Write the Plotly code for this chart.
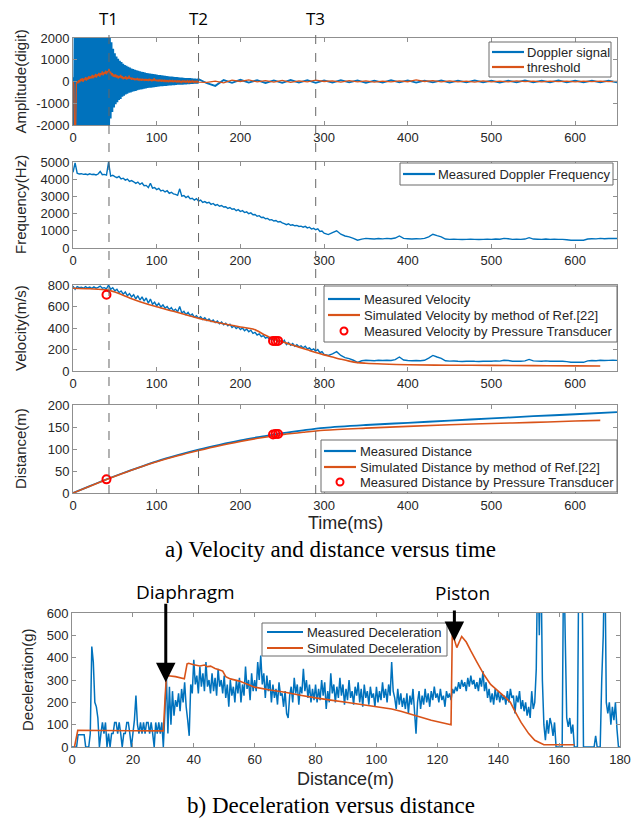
import numpy as np
import plotly.graph_objects as go

BLUE = "#0072BD"
ORANGE = "#D95319"
RED = "#FF0000"
W, H = 633, 819

# ---------------- Panel 1 : Doppler signal / threshold (time, ms) ----------------
doppler_early = [200, -2600, 2600, -2600, 2600, -2600, 2600, -2600, 2600, -2600,
                 2600, -2600, 2600, -2600, 2600, -2600, 2600, -2600, 2600, -2600,
                 2600, -2600, 2600, -2600, 2600, -2600, 2600, -2600, 2600, -2600,
                 2600, -2600, 2600, -2600, 2600, -2600, 2600, -2600, 2600, -2600,
                 2600, -2600, 2600, -2600,
                 2300, -1700, 1800, -1400, 1500, -1200, 1300, -1050, 1150, -950,
                 1050, -850, 950, -800, 900, -700, 820, -650, 760, -600,
                 720, -560, 680, -520, 640, -500, 600, -470, 570, -450,
                 540, -430, 520, -400, 490, -380, 470, -360, 450, -350,
                 430, -330, 410, -320, 390, -300, 380, -290, 360, -280,
                 350, -270, 340, -260, 330, -250, 320, -240, 300, -230,
                 290, -220, 280, -210, 270, -200, 260, -200, 250, -190,
                 240, -180, 230, -180, 220, -170, 210, -170, 200, -160,
                 200, -150, 190, -150, 180, -140, 180, -140, 170, -130,
                 160, -130, 160, -120, 150, -120, 150, -110, 140, -110,
                 130, -100, 130, -100, 120, -100, 110]
doppler_late = [-80, -200, 70, -60, 80, -50, 60, -70, 50, -60, 70, -50, 60, -60, 50,
                -50, 60, -40, 50, -60, 40, -50, 60, -40, 50, -50, 40, -40, 50, -50,
                40, -40, 50, -40, 40, -50, 40, -40, 50, -40, 40, -40, 50, -40, 40,
                -40, 40, -40, 40, -40]
threshold_early = [0, -150, -2600, -2600, -100, 0, -80, 60, -40, 120,
                   20, 150, -20, 130, 60, 200, 40, 180, 90, 250,
                   120, 230, 150, 300, 140, 280, 200, 350, 180, 330,
                   260, 400, 230, 380, 300, 460, 280, 420, 350, 500,
                   330, 470, 420, 580, 380, 450, 280, 380, 220, 320,
                   200, 330, 180, 280, 140, 250, 180, 300, 150, 240,
                   100, 200, 130, 240, 90, 190, 120, 270, 120, 180,
                   80, 170, 90, 150, 60, 140, 70, 160, 50, 130,
                   60, 120, 40, 130, 50, 110, 30, 120, 40, 100,
                   20, 130, 40, 100, 10, 90, 30, 150, 20, 90,
                   10, 80, 0, 90, 20, 70, -10, 80, 10, 60,
                   -20, 70, 0, 60, -30, 50, 0, 60, -20, 40,
                   -30, 50, -10, 40, -40, 30, -20, 50, -30, 20,
                   -40, 30, -20, 40, -50, 20, -30, 30, -40, 20,
                   -50, 20, -30, 30, -40, 10, -30, 20, -40, 10, -30]
threshold_late = [-40, 20, -60, 60, 0, 70, -20, 40, -30, 50, -40, 30, -20, 60, 0,
                  30, -30, 40, -20, 30, -30, 20, -20, 30, -10, 70, 0, 40, -20, 30,
                  -20, 20, -30, 30, -20, 20, -20, 30, -10, 20, -20, 20, -10, 20, -20,
                  20, -10, 20, -10, 10]

# ---------------- Panel 2 : measured Doppler frequency (Hz) ----------------
freq_early = [4400, 4950, 4350, 4300, 4320, 4280, 4300, 4260, 4310, 4270,
              4290, 4250, 4300, 4450, 4260, 4280, 4240, 4990,
              4180, 4230, 4150, 4090, 4160, 4020, 4060, 3950, 4010, 3870,
              3920, 3850, 3760, 3830, 3700, 3780, 3620, 3640, 3510, 3760,
              3480, 3520, 3400, 3470, 3320, 3360, 3260, 3330, 3180, 3240,
              3150, 3120, 3060, 3440, 3010, 3050, 2930, 3010, 2860, 2890,
              2780, 2870, 2730, 2790, 2650, 2700, 2620, 2660, 2540, 2590,
              2480, 2530, 2430, 2470, 2380, 2400, 2300, 2350, 2250, 2280,
              2170, 2230, 2120, 2170, 2060, 2100, 1990, 2040, 1930, 1950,
              1850, 1880, 1770, 1790, 1700, 1720, 1630, 1650, 1570, 1600,
              1510, 1540, 1460, 1420, 1360, 1410, 1320, 1350, 1290, 1310,
              1250, 1270, 1210, 1260, 1170, 1210, 1100, 1140, 1060, 1110,
              960, 990, 860]
freq_late = [780, 900, 1000, 800, 700, 650, 560, 450, 520, 560,
             540, 520, 550, 530, 560, 540, 580, 700, 560, 540,
             520, 540, 530, 560, 650, 800, 720, 650, 520, 500,
             510, 500, 490, 500, 510, 500, 490, 500, 510, 500,
             520, 510, 560, 540, 500, 510, 500, 520, 600, 520,
             510, 500, 520, 500, 510, 500, 500, 480, 450, 450,
             460, 450, 520, 540, 530, 560, 540, 550, 560, 550]

# ---------------- Panel 3 : velocity (m/s) ----------------
vel_early = [790, 760, 785, 775, 780, 770, 785, 772, 780, 768,
             782, 770, 778, 790, 770, 775, 765, 800, 760, 775,
             745, 760, 730, 745, 715, 735, 700, 720, 690, 710,
             670, 700, 660, 690, 650, 680, 630, 670, 620, 640,
             605, 630, 595, 615, 585, 600, 570, 590, 560, 575,
             550, 600, 540, 555, 525, 545, 515, 530, 500, 515,
             490, 505, 480, 495, 470, 485, 460, 475, 450, 465,
             440, 455, 430, 445, 420, 435, 405, 420, 395, 410,
             385, 400, 375, 390, 365, 380, 350, 360, 335, 345,
             320, 330, 305, 315, 295, 300, 285, 295, 270, 280,
             260, 285, 245, 265, 240, 255, 230, 245, 225, 235,
             215, 230, 205, 215, 195, 205, 185, 200, 170, 180, 155]
vel_late = [145, 160, 180, 145, 125, 115, 100, 80, 95, 100,
            98, 95, 100, 97, 100, 98, 105, 130, 102, 98,
            95, 98, 96, 100, 120, 145, 130, 118, 95, 92,
            93, 90, 89, 91, 92, 90, 89, 91, 92, 90,
            94, 92, 100, 98, 91, 92, 90, 94, 108, 94,
            92, 90, 94, 90, 92, 90, 90, 87, 81, 81,
            83, 81, 94, 98, 96, 100, 98, 99, 100, 99]
sim_vel_t = [0, 20, 40, 50, 60, 70, 80, 100, 120, 140, 160, 180, 200, 215, 220, 230, 240,
             250, 260, 270, 280, 290, 300, 310, 320, 330, 340, 350, 370, 400, 450, 500,
             550, 600, 630]
sim_vel = [770, 765, 755, 735, 705, 672, 645, 597, 555, 512, 472, 440, 410, 390, 375, 332,
           298, 272, 247, 222, 197, 172, 150, 130, 110, 92, 78, 72, 65, 58, 54, 52, 50, 48, 47]
pt_vel_t = [40, 239, 242, 245]
pt_vel = [710, 280, 278, 280]

# ---------------- Panel 4 : distance (m) ----------------
dist_t = [0, 20, 40, 60, 80, 100, 125, 150, 175, 200, 225, 250, 275, 300, 350, 400, 450,
          500, 550, 600, 650]
dist_meas = [0, 15.6, 31, 45.5, 59, 72, 86, 98.5, 109.5, 119.5, 128, 136, 142.5, 148,
             154.5, 159.5, 164.5, 169.5, 174.5, 179, 184]
sim_dist_t = [0, 20, 40, 60, 80, 100, 125, 150, 175, 200, 225, 250, 275, 300, 350, 400,
              450, 500, 550, 600, 630]
sim_dist = [0, 15.4, 30.7, 45, 58.5, 71, 84.5, 96.5, 107.5, 117, 125.5, 132.5, 138,
            142.5, 147.5, 151.5, 155, 158, 160.5, 163.5, 165]
pt_dist_t = [40, 239, 242, 245]
pt_dist = [31, 133, 134, 134]

# ---------------- Panel 5 : deceleration vs distance ----------------
decel_meas = [
    0, 0, 0, 0, 55, 55, 55, 55, 55, 0, 0, 0, 60, 450, 380, 200, 180, 130, 0, 60,
    110, 60, 110, 0, 60, 0, 60, 60, 110, 110, 60, 110, 60, 0, 60, 60, 110, 110, 60, 0,
    60, 120, 230, 100, 60, 110, 60, 110, 60, 110, 110, 60, 110, 60, 0, 110, 60, 110, 60, 110,
    0, 150, 320, 60, 270, 100, 250, 140, 210, 180, 240, 160, 260, 200, 290, 180, 120, 50, 280, 240,
    390, 280, 320, 240, 360, 270, 330, 250, 380, 270, 300, 240, 330, 250, 310, 230, 350, 270, 300, 240,
    320, 220, 280, 180, 300, 230, 270, 200, 300, 240, 310, 200, 280, 230, 360, 260, 300, 210, 330, 250,
    300, 250, 380, 300, 410, 280, 330, 220, 320, 250, 300, 200, 280, 220, 260, 190, 290, 230, 240, 180,
    250, 150, 130, 230, 270, 200, 310, 240, 280, 190, 270, 240, 350, 250, 300, 220, 280, 200, 260, 210,
    280, 200, 260, 210, 300, 230, 290, 170, 250, 200, 330, 240, 280, 200, 270, 220, 310, 230, 280, 190,
    260, 210, 300, 220, 250, 190, 270, 230, 290, 200, 260, 180, 280, 220, 250, 190, 270, 220, 240, 180,
    270, 200, 250, 210, 290, 220, 260, 200, 280, 230, 380, 250, 220, 170, 260, 190, 240, 180, 220, 170,
    240, 150, 230, 190, 260, 160, 60, 200, 250, 170, 230, 190, 260, 200, 240, 180, 250, 210, 270, 220,
    240, 200, 260, 210, 230, 180, 250, 220, 240, 210, 260, 240, 270, 250, 290, 260, 300, 270, 290, 250,
    310, 270, 320, 280, 300, 260, 290, 250, 310, 270, 340, 250, 290, 220, 260, 200, 240, 190, 260, 210,
    250, 200, 240, 210, 230, 190, 250, 200, 260, 220, 230, 150, 230, 200, 250, 170, 210, 160, 200, 140,
    180, 130, 250, 170, 200, 350, 900, 500, 900, 300, 100, 30, 120, 60, 130, 100, 50, 110, 0, 0,
    0, 0, 0, 900, 500, 130, 90, 130, 60, 100, 0, 0, 0, 900, 900, 900, 0, 0, 0, 0,
    0, 0, 0, 0, 50, 0, 0, 0, 300, 500, 900, 200, 150, 200, 100, 180, 120, 200, 80, 0, 0]
sim_dec_d = [0.8, 1.9, 10, 20, 30.0, 30.5, 31.0, 34, 36.9, 37.8, 38.3, 40, 42, 43.5, 44.5,
             45.5, 47, 48.5, 49.5, 50.5, 52, 55, 60, 65, 70, 75, 80, 85, 90, 95, 100, 105,
             108, 113, 118, 124.5, 124.9, 125.6, 126.4, 127.2, 128, 129.5, 131, 133, 135.5,
             137.5, 140, 142.5, 144, 145.5, 147.5, 150, 152, 155, 160, 165]
sim_dec = [0, 75, 74, 73, 72, 200, 320, 315, 305, 372, 375, 368, 363, 367, 360, 362, 352,
           345, 340, 315, 305, 295, 268, 255, 245, 232, 220, 210, 200, 190, 180, 170, 160,
           140, 120, 100, 500, 480, 445, 470, 495, 470, 430, 380, 320, 280, 250, 220, 200,
           160, 110, 60, 30, 10, 10, 10]

event_t = [43, 150, 290]
event_labels = ["T1", "T2", "T3"]

legend1_labels = ["Doppler signal", "threshold"]
legend2_labels = ["Measured Doppler Frequency"]
legend3_labels = ["Measured Velocity", "Simulated Velocity by method of Ref.[22]",
                  "Measured Velocity by Pressure Transducer"]
legend4_labels = ["Measured Distance", "Simulated Distance by method of Ref.[22]",
                  "Measured Distance by Pressure Transducer"]
legend5_labels = ["Measured Deceleration", "Simulated Deceleration"]

# ---------------- sampling grids ----------------
t_dop = np.concatenate([np.arange(len(doppler_early)) * 1.0, 160 + 10.0 * np.arange(len(doppler_late))])
y_dop = np.array(doppler_early + doppler_late)
t_thr = np.concatenate([np.arange(len(threshold_early)) * 1.0, 160 + 10.0 * np.arange(len(threshold_late))])
y_thr = np.array(threshold_early + threshold_late)
t_f = np.concatenate([2.5 * np.arange(len(freq_early)), 305 + 5.0 * np.arange(len(freq_late))])
y_f = np.array(freq_early + freq_late)
t_v = np.concatenate([2.5 * np.arange(len(vel_early)), 305 + 5.0 * np.arange(len(vel_late))])
y_v = np.array(vel_early + vel_late)
d_dec = 0.5 * np.arange(len(decel_meas))

fig = go.Figure()


def line(x, y, color, width, xa, ya, shape="linear", name=None):
    fig.add_trace(go.Scatter(x=x, y=y, mode="lines", name=name,
                             line=dict(color=color, width=width, shape=shape, simplify=False),
                             showlegend=False, xaxis=xa, yaxis=ya))


def circles(x, y, xa, ya, name=None):
    fig.add_trace(go.Scatter(x=x, y=y, mode="markers", name=name,
                             marker=dict(symbol="circle-open", size=8, color=RED, line=dict(width=2, color=RED)),
                             showlegend=False, xaxis=xa, yaxis=ya))


line(t_dop, y_dop, BLUE, 1.9, "x", "y", name=legend1_labels[0])
line(t_thr, y_thr, ORANGE, 1.3, "x", "y", name=legend1_labels[1])
line(t_f, y_f, BLUE, 1.4, "x2", "y2", name=legend2_labels[0])
line(t_v, y_v, BLUE, 1.4, "x3", "y3", name=legend3_labels[0])
line(sim_vel_t, sim_vel, ORANGE, 1.6, "x3", "y3", shape="spline", name=legend3_labels[1])
circles(pt_vel_t, pt_vel, "x3", "y3", name=legend3_labels[2])
line(dist_t, dist_meas, BLUE, 1.8, "x4", "y4", shape="spline", name=legend4_labels[0])
line(sim_dist_t, sim_dist, ORANGE, 1.6, "x4", "y4", shape="spline", name=legend4_labels[1])
circles(pt_dist_t, pt_dist, "x4", "y4", name=legend4_labels[2])
line(d_dec, decel_meas, BLUE, 1.5, "x5", "y5", name=legend5_labels[0])
line(sim_dec_d, sim_dec, ORANGE, 1.6, "x5", "y5", name=legend5_labels[1])

TXT = "#262626"
SANS = "Liberation Sans, Arial, sans-serif"
SERIF = "Liberation Serif, Times New Roman, serif"
DECO = "Open Sans, Noto Sans, sans-serif"
AXC = "#8f8f8f"


def py(px):
    return 1 - px / H


def pxx(px):
    return px / W


def xax(anchor, rng, dtick, domain):
    return dict(anchor=anchor, range=rng, dtick=dtick, tick0=0, domain=domain, automargin=False,
                showline=True, linecolor=AXC, linewidth=1, mirror="ticks", ticks="inside",
                ticklen=4, tickcolor=AXC, showgrid=False, zeroline=False,
                tickfont=dict(family=SANS, size=13, color=TXT))


def yax(anchor, rng, vals, domain):
    return dict(anchor=anchor, range=rng, tickvals=vals, ticktext=[str(v) for v in vals], domain=domain,
                automargin=False, showline=True, linecolor=AXC, linewidth=1, mirror="ticks", ticks="inside",
                ticklen=4, tickcolor=AXC, showgrid=False, zeroline=False,
                tickfont=dict(family=SANS, size=13, color=TXT))


xd = [pxx(73), pxx(617)]
xd5 = [pxx(72), pxx(620)]
p1 = [py(125), py(38)]
p2 = [py(248), py(162)]
p3 = [py(371), py(285)]
p4 = [py(493), py(405)]
p5 = [py(747), py(613)]

fig.update_layout(
    width=W, height=H, autosize=False,
    margin=dict(l=0, r=0, t=0, b=0, pad=0, autoexpand=False),
    paper_bgcolor="white", plot_bgcolor="white", showlegend=False,
    xaxis=xax("y", [0, 650], 100, xd),
    yaxis=yax("x", [-2000, 2000], [-2000, -1000, 0, 1000, 2000], p1),
    xaxis2=xax("y2", [0, 650], 100, xd),
    yaxis2=yax("x2", [0, 5000], [0, 1000, 2000, 3000, 4000, 5000], p2),
    xaxis3=xax("y3", [0, 650], 100, xd),
    yaxis3=yax("x3", [0, 800], [0, 200, 400, 600, 800], p3),
    xaxis4=xax("y4", [0, 650], 100, xd),
    yaxis4=yax("x4", [0, 200], [0, 50, 100, 150, 200], p4),
    xaxis5=xax("y5", [0, 180], 20, xd5),
    yaxis5=yax("x5", [0, 600], [0, 100, 200, 300, 400, 500, 600], p5),
)

shapes = []
annotations = []

# dashed event lines and labels
for t, lab in zip(event_t, event_labels):
    shapes.append(dict(type="line", xref="x", yref="paper", x0=t, x1=t, y0=py(494), y1=py(30),
                       line=dict(color="#666666", width=1, dash="dash")))
    annotations.append(dict(xref="x", yref="paper", x=t, y=py(18), text=lab, showarrow=False,
                            font=dict(family=DECO, size=17, color="black"),
                            xanchor="center", yanchor="middle"))


# hand-placed legend boxes (pixel geometry)
def add_legend(box, rows, labels, kinds, colors, lx0, lx1, tx, size=13):
    x0, y0, x1, y1 = box
    shapes.append(dict(type="rect", xref="paper", yref="paper", x0=pxx(x0), x1=pxx(x1),
                       y0=py(y1), y1=py(y0), fillcolor="white", line=dict(color="#6a6a6a", width=1),
                       layer="above"))
    for yr, lab, kind, col in zip(rows, labels, kinds, colors):
        if kind == "line":
            shapes.append(dict(type="line", xref="paper", yref="paper", x0=pxx(lx0), x1=pxx(lx1),
                               y0=py(yr), y1=py(yr), line=dict(color=col, width=2.2), layer="above"))
        else:
            cx = (lx0 + lx1) / 2
            shapes.append(dict(type="circle", xref="paper", yref="paper", x0=pxx(cx - 3.5), x1=pxx(cx + 3.5),
                               y0=py(yr + 3.5), y1=py(yr - 3.5), line=dict(color=RED, width=2),
                               layer="above"))
        annotations.append(dict(xref="paper", yref="paper", x=pxx(tx), y=py(yr), text=lab, showarrow=False,
                                xanchor="left", yanchor="middle", font=dict(family=SANS, size=size, color=TXT)))


add_legend((489, 42, 611, 77), [52, 67], legend1_labels, ["line", "line"], [BLUE, ORANGE], 492, 524, 525)
add_legend((400, 163, 613, 185), [174], legend2_labels, ["line"], [BLUE], 403, 435, 436)
add_legend((324, 286, 617, 342), [299, 315, 331], legend3_labels, ["line", "line", "marker"],
           [BLUE, ORANGE, RED], 328, 360, 362)
add_legend((321, 440, 617, 492), [451, 467, 482], legend4_labels, ["line", "line", "marker"],
           [BLUE, ORANGE, RED], 324, 356, 358)
add_legend((262, 623, 447, 656), [632, 648], legend5_labels, ["line", "line"], [BLUE, ORANGE], 267, 303, 305)

ytitles = [("Amplitude(digit)", 20, (38 + 125) / 2), ("Frequency(Hz)", 20, (162 + 248) / 2),
           ("Velocity(m/s)", 20, (285 + 371) / 2), ("Distance(m)", 20, (405 + 493) / 2),
           ("Deceleration(g)", 27, (613 + 747) / 2)]
for text, xp, yp in ytitles:
    annotations.append(dict(xref="paper", yref="paper", x=pxx(xp), y=py(yp), text=text, textangle=-90,
                            showarrow=False, xanchor="center", yanchor="middle",
                            font=dict(family=SANS, size=15, color=TXT)))
annotations.append(dict(xref="paper", yref="paper", x=pxx(345), y=py(523), text="Time(ms)", showarrow=False,
                        xanchor="center", yanchor="middle", font=dict(family=SANS, size=18, color=TXT)))
annotations.append(dict(xref="paper", yref="paper", x=pxx(345), y=py(779), text="Distance(m)", showarrow=False,
                        xanchor="center", yanchor="middle", font=dict(family=SANS, size=18, color=TXT)))
annotations.append(dict(xref="paper", yref="paper", x=pxx(330), y=py(549),
                        text="a) Velocity and distance versus time", showarrow=False,
                        xanchor="center", yanchor="middle", font=dict(family=SERIF, size=23, color="black")))
annotations.append(dict(xref="paper", yref="paper", x=pxx(331), y=py(805),
                        text="b) Deceleration versus distance", showarrow=False,
                        xanchor="center", yanchor="middle", font=dict(family=SERIF, size=23, color="black")))
annotations.append(dict(xref="paper", yref="paper", x=pxx(185), y=py(592), text="Diaphragm", showarrow=False,
                        xanchor="center", yanchor="middle", font=dict(family=DECO, size=19, color="black")))
annotations.append(dict(xref="paper", yref="paper", x=pxx(462), y=py(593), text="Piston", showarrow=False,
                        xanchor="center", yanchor="middle", font=dict(family=DECO, size=19, color="black")))
# arrows
annotations.append(dict(xref="x5", yref="y5", x=30.8, y=290, ax=0, ay=-80, text="", showarrow=True,
                        arrowhead=2, arrowsize=1.3, arrowwidth=3, arrowcolor="black"))
annotations.append(dict(xref="x5", yref="y5", x=125.6, y=475, ax=0, ay=-32, text="", showarrow=True,
                        arrowhead=2, arrowsize=1.3, arrowwidth=3, arrowcolor="black"))

fig.update_layout(shapes=shapes, annotations=annotations)
fig.write_html(
    "out.html",
    config={"displayModeBar": False},
    post_script="document.body.style.margin='0';document.body.style.overflow='hidden';"
                "document.documentElement.style.overflow='hidden';",
)
